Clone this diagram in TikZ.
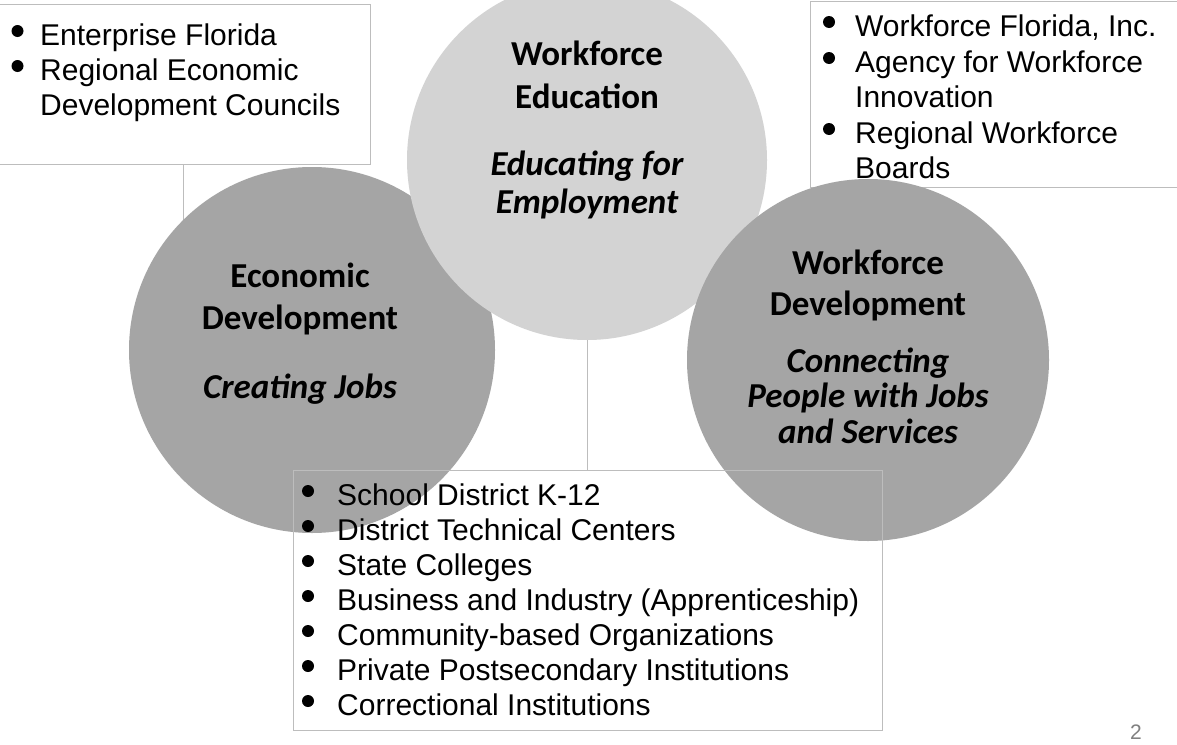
\documentclass[tikz,border=0pt]{standalone}
\usepackage{fontspec}
\setmainfont{Liberation Sans}
\newfontfamily\cfont{Carlito}
\definecolor{boxline}{HTML}{BDBDBD}
\definecolor{lightfill}{HTML}{D3D3D3}
\definecolor{darkfill}{HTML}{A5A5A5}
\begin{document}
\begin{tikzpicture}[x=1pt,y=-1pt,
  box/.style={draw=boxline, line width=1pt, inner sep=0pt, anchor=north west},
  conn/.style={draw=boxline, line width=1pt},
  circ/.style={circle, inner sep=0pt, draw=none},
  lst/.style={font=\fontsize{30}{35}\selectfont, anchor=base west, inner sep=0pt},
  bul/.style={circle, fill=black, inner sep=0pt, minimum size=12pt},
  ttl/.style={font=\cfont\bfseries\fontsize{35}{40}\selectfont, anchor=base, inner sep=0pt},
  sub/.style={font=\cfont\bfseries\itshape\fontsize{35}{40}\selectfont, anchor=base, inner sep=0pt},
]
\useasboundingbox (0,0) rectangle (1177,744);
\fill[white] (0,0) rectangle (1177,744);

% top boxes
\node[box, minimum width=375pt, minimum height=160pt] (tlb) at (-5,4) {};
\node[box, minimum width=380pt, minimum height=186pt] (trb) at (810,1) {};

% connector from top-left box down behind the left circle
\coordinate (c1) at (183,164);
\coordinate (c2) at (183,300);
\draw[conn] (c1) -- (c2);

% circles
\node[circ, fill=darkfill, minimum size=366pt] (econ) at (312,350) {};
\node[circ, fill=lightfill, minimum size=360pt] (wedu) at (587,160) {};
\node[circ, fill=darkfill, minimum size=362pt] (wdev) at (868,360) {};

% bottom box
\node[box, minimum width=589pt, minimum height=260pt] (bot) at (293,470) {};
\draw[conn] (wedu.south) -- (wedu.south |- bot.north);

% circle texts
\node[ttl] (t1) at (587,65) {Workforce};
\node[ttl] (t2) at (587,108) {Education};
\node[sub] (t3) at (587,175) {Educating for};
\node[sub] (t4) at (587,213) {Employment};

\node[ttl] (e1) at (300,287) {Economic};
\node[ttl] (e2) at (300,329) {Development};
\node[sub] (e3) at (300,398) {Creating Jobs};

\node[ttl] (d1) at (868,274) {Workforce};
\node[ttl] (d2) at (868,315) {Development};
\node[sub] (d3) at (868,372) {Connecting};
\node[sub] (d4) at (868,407) {People with Jobs};
\node[sub] (d5) at (868,443) {and Services};

% top-left list
\node[bul] (lb1) at (17.5,31) {};
\node[lst] (l1) at (40,45) {Enterprise Florida};
\node[bul] (lb2) at (17.5,66) {};
\node[lst] (l2) at (40,80) {Regional Economic};
\node[lst] (l3) at (40,115) {Development Councils};

% top-right list
\node[bul] (rb1) at (829,22) {};
\node[lst] (r1) at (855,36) {Workforce Florida, Inc.};
\node[bul] (rb2) at (829,58) {};
\node[lst] (r2) at (855,72) {Agency for Workforce};
\node[lst] (r3) at (855,107) {Innovation};
\node[bul] (rb3) at (829,129) {};
\node[lst] (r4) at (855,143) {Regional Workforce};
\node[lst] (r5) at (855,178) {Boards};

% bottom list
\node[bul] (bb1) at (308,491) {};
\node[lst] (b1) at (337,505) {School District K-12};
\node[bul] (bb2) at (308,526) {};
\node[lst] (b2) at (337,540) {District Technical Centers};
\node[bul] (bb3) at (308,561) {};
\node[lst] (b3) at (337,575) {State Colleges};
\node[bul] (bb4) at (308,596) {};
\node[lst] (b4) at (337,610) {Business and Industry (Apprenticeship)};
\node[bul] (bb5) at (308,631) {};
\node[lst] (b5) at (337,645) {Community-based Organizations};
\node[bul] (bb6) at (308,666) {};
\node[lst] (b6) at (337,680) {Private Postsecondary Institutions};
\node[bul] (bb7) at (308,701) {};
\node[lst] (b7) at (337,715) {Correctional Institutions};

% page number
\node[font=\fontsize{21}{21}\selectfont, text=gray, anchor=base, inner sep=0pt] (pg) at (1136,739) {2};
\end{tikzpicture}
\end{document}
